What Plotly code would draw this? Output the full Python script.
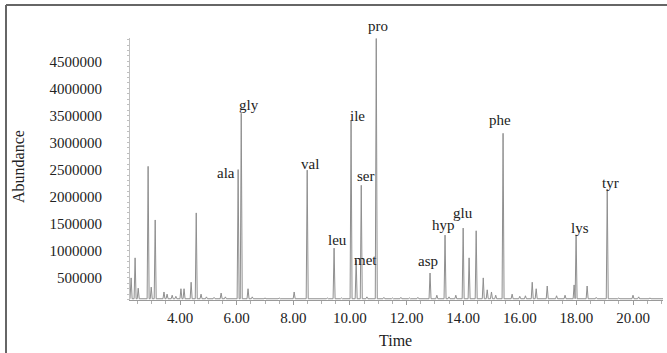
import plotly.graph_objects as go

# Labelled amino-acid peaks (retention time in min, abundance)
aa_names = ["ala", "gly", "val", "leu", "ile", "met", "ser", "pro",
            "asp", "hyp", "glu", "phe", "lys", "tyr"]
aa_times = [6.05, 6.16, 8.49, 9.44, 10.04, 10.22, 10.40, 10.93,
            12.83, 13.36, 14.00, 15.41, 17.99, 19.09]
aa_heights = [2500000, 3540000, 2490000, 1050000, 3410000, 830000, 2210000, 4920000,
              590000, 1290000, 1420000, 3170000, 1290000, 2140000]

# Other unlabelled peaks
other_times = [2.27, 2.41, 2.52, 2.87, 2.98, 3.12, 3.43, 3.54, 3.72, 3.85,
               4.03, 4.14, 4.39, 4.57, 4.74, 4.93, 5.20, 5.45, 5.60, 6.40,
               6.55, 7.00, 7.50, 8.03, 8.80, 9.20, 9.70, 10.60, 11.20, 11.50,
               11.80, 12.10, 12.40, 13.07, 13.50, 13.74, 14.21, 14.46, 14.71, 14.85,
               15.00, 15.15, 15.73, 16.00, 16.20, 16.44, 16.58, 16.97, 17.30, 17.60,
               17.92, 18.38, 18.70, 19.50, 20.00, 20.20, 20.60]
other_heights = [500000, 870000, 310000, 2560000, 330000, 1570000, 240000, 200000, 180000, 160000,
                 300000, 300000, 420000, 1700000, 200000, 150000, 140000, 220000, 150000, 300000,
                 150000, 130000, 130000, 240000, 120000, 130000, 130000, 150000, 140000, 130000,
                 140000, 130000, 140000, 180000, 150000, 180000, 870000, 1370000, 500000, 280000,
                 240000, 180000, 200000, 160000, 170000, 420000, 300000, 350000, 170000, 180000,
                 370000, 350000, 140000, 130000, 180000, 150000, 130000]

baseline = 115000
t_start, t_end = 2.23, 21.06
x_ticks = [4, 6, 8, 10, 12, 14, 16, 18, 20]
y_ticks = [500000, 1000000, 1500000, 2000000, 2500000, 3000000, 3500000, 4000000, 4500000]

# label offsets in px (style)
label_shift = {
    "ala": (-12, -3), "gly": (8, 8), "val": (3, 6), "leu": (3, 8), "ile": (6, 4),
    "met": (9, 0), "ser": (5, 9), "pro": (2, 13), "asp": (-2, 12), "hyp": (-2, 10),
    "glu": (0, 15), "phe": (-3, 13), "lys": (4, 7), "tyr": (3, 6),
}

peaks = sorted(zip(aa_times + other_times, aa_heights + other_heights))
w = 0.035
xs, ys = [t_start], [baseline]
for t, h in peaks:
    xs += [t - w, t, t + w]
    ys += [baseline, h, baseline]
xs.append(t_end)
ys.append(baseline)

fig = go.Figure()
fig.add_trace(go.Scatter(x=xs, y=ys, mode="lines",
                         line=dict(color="#8f8f8f", width=1), showlegend=False,
                         hoverinfo="skip"))

font_family = "Liberation Serif"
for name, t, h in zip(aa_names, aa_times, aa_heights):
    dx, dy = label_shift[name]
    fig.add_annotation(x=t, y=h, text=name, showarrow=False, xanchor="center",
                       yanchor="middle", xshift=dx, yshift=dy,
                       font=dict(family=font_family, size=15, color="#222222"))

L, R, T, B = 130, 4, 38, 53
W, H = 667, 353
pw, ph = W - L - R, H - T - B

fig.update_layout(
    width=W, height=H,
    margin=dict(l=L, r=R, t=T, b=B, autoexpand=False),
    paper_bgcolor="white", plot_bgcolor="white",
    font=dict(family=font_family, size=15, color="#222222"),
    xaxis=dict(range=[t_start, t_end], tickvals=x_ticks,
               ticktext=[f"{v:.2f}" for v in x_ticks],
               showgrid=False, zeroline=False, showline=True,
               linecolor="#9a9a9a", linewidth=1,
               ticks="outside", ticklen=4, tickcolor="#9a9a9a",
               minor=dict(dtick=0.5, tick0=0, ticks="outside", ticklen=3,
                          tickcolor="#b0b0b0", showgrid=False),
               tickfont=dict(size=15, color="#222222")),
    yaxis=dict(range=[92000, 4930000], tickvals=y_ticks,
               ticktext=[str(v) for v in y_ticks],
               showgrid=False, zeroline=False, showline=True,
               linecolor="#c0c0c0", linewidth=1,
               ticks="", ticklabelstandoff=24,
               minor=dict(dtick=100000, ticks="outside", ticklen=2,
                          tickcolor="#c0c0c0", showgrid=False),
               tickfont=dict(size=15, color="#222222")),
)

# axis titles
fig.add_annotation(text="Time", xref="paper", yref="paper",
                   x=(395 - L) / pw, y=(H - B - 340) / ph, showarrow=False,
                   xanchor="center", yanchor="middle",
                   font=dict(family=font_family, size=16, color="#222222"))
fig.add_annotation(text="Abundance", xref="paper", yref="paper",
                   x=(18 - L) / pw, y=(H - B - 166) / ph, showarrow=False,
                   textangle=-90, xanchor="center", yanchor="middle",
                   font=dict(family=font_family, size=16, color="#222222"))

# outer frame (top and left edges)
fig.add_shape(type="line", xref="paper", yref="paper",
              x0=(6 - L) / pw, x1=(W + 2 - L) / pw,
              y0=(H - B - 5) / ph, y1=(H - B - 5) / ph,
              line=dict(color="#666666", width=2))
fig.add_shape(type="line", xref="paper", yref="paper",
              x0=(6 - L) / pw, x1=(6 - L) / pw,
              y0=(H - B - 5) / ph, y1=(H - B - H - 2) / ph,
              line=dict(color="#666666", width=2))

fig.write_html("out.html", config={"displayModeBar": False},
               post_script="document.body.style.margin='0';document.body.style.overflow='hidden';")
